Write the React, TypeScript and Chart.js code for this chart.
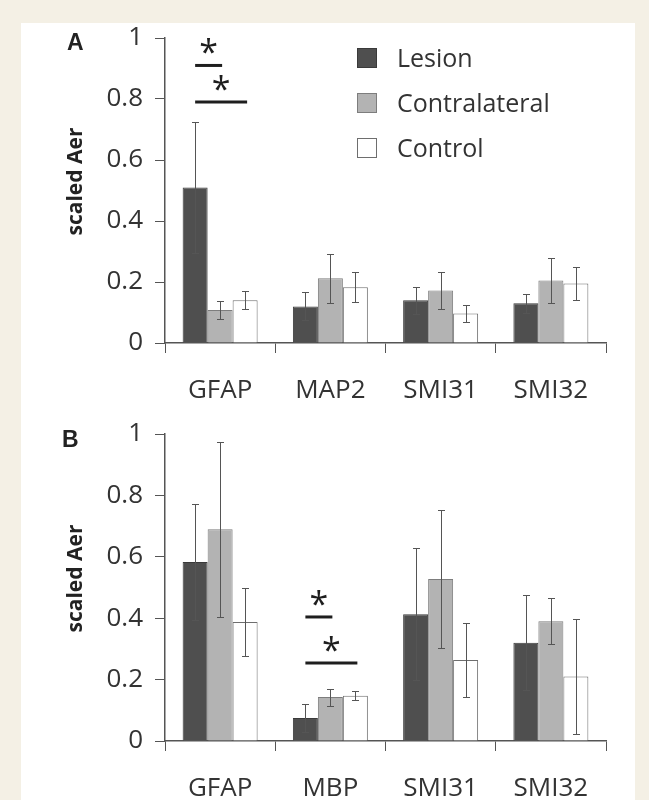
import React, { useEffect, useRef } from 'react';
import { Chart, registerables } from 'chart.js';

Chart.register(...registerables);

// ---------- data ----------
const seriesNames = ['Lesion', 'Contralateral', 'Control'];
const yTickValues = [0, 0.2, 0.4, 0.6, 0.8, 1];

const categoriesA = ['GFAP', 'MAP2', 'SMI31', 'SMI32'];
const lesionA = [0.51, 0.12, 0.14, 0.13];
const lesionErrA = [0.215, 0.046, 0.045, 0.03];
const contraA = [0.108, 0.212, 0.172, 0.205];
const contraErrA = [0.03, 0.08, 0.06, 0.075];
const controlA = [0.14, 0.183, 0.097, 0.195];
const controlErrA = [0.03, 0.05, 0.028, 0.055];
const sigA = [
  { group: 0, from: 0, to: 1, y: 0.91 },
  { group: 0, from: 0, to: 2, y: 0.79 },
];

const categoriesB = ['GFAP', 'MBP', 'SMI31', 'SMI32'];
const lesionB = [0.583, 0.075, 0.413, 0.32];
const lesionErrB = [0.19, 0.045, 0.215, 0.155];
const contraB = [0.69, 0.143, 0.528, 0.39];
const contraErrB = [0.285, 0.028, 0.225, 0.075];
const controlB = [0.388, 0.147, 0.264, 0.21];
const controlErrB = [0.112, 0.015, 0.12, 0.187];
const sigB = [
  { group: 1, from: 0, to: 1, y: 0.404 },
  { group: 1, from: 0, to: 2, y: 0.254 },
];

// ---------- styles ----------
const fills = ['#4f4f4f', '#b3b3b3', '#ffffff'];
const borders = ['#3a3a3a', '#7d7d7d', '#6e6e6e'];
const axisColor = '#555555';
const textColor = '#333333';
const FONT = '"Open Sans", "DejaVu Sans", sans-serif';

const extrasPlugin = {
  id: 'extras',
  afterDatasetsDraw(chart: any, _args: any, opts: any) {
    const ctx = chart.ctx;
    const ys = chart.scales.y;
    // error bars
    chart.data.datasets.forEach((ds: any, i: number) => {
      const meta = chart.getDatasetMeta(i);
      meta.data.forEach((bar: any, j: number) => {
        const v = ds.data[j];
        const e = ds.errors[j];
        const x = Math.round(bar.x) + 0.5;
        const y1 = Math.round(ys.getPixelForValue(v + e)) + 0.5;
        const y2 = Math.round(ys.getPixelForValue(v - e)) + 0.5;
        ctx.save();
        ctx.strokeStyle = '#555555';
        ctx.lineWidth = 1;
        ctx.beginPath();
        ctx.moveTo(x, y1);
        ctx.lineTo(x, y2);
        ctx.moveTo(x - 3.5, y1);
        ctx.lineTo(x + 3.5, y1);
        ctx.moveTo(x - 3.5, y2);
        ctx.lineTo(x + 3.5, y2);
        ctx.stroke();
        ctx.restore();
      });
    });
    // significance bars
    (opts.sig || []).forEach((s: any) => {
      const x1 = chart.getDatasetMeta(s.from).data[s.group].x;
      const x2 = chart.getDatasetMeta(s.to).data[s.group].x + 2;
      const y = ys.getPixelForValue(s.y);
      ctx.save();
      ctx.strokeStyle = '#1e1e1e';
      ctx.lineWidth = 3;
      ctx.beginPath();
      ctx.moveTo(x1, y);
      ctx.lineTo(x2, y);
      ctx.stroke();
      ctx.fillStyle = '#1e1e1e';
      ctx.font = `34px ${FONT}`;
      ctx.textAlign = 'center';
      ctx.textBaseline = 'middle';
      ctx.fillText('*', (x1 + x2) / 2, y - 11);
      ctx.restore();
    });
  },
  afterDraw(chart: any, _args: any, opts: any) {
    const ctx = chart.ctx;
    const area = chart.chartArea;
    // panel letter
    ctx.save();
    ctx.fillStyle = '#222';
    ctx.font = `bold 23px "Liberation Sans", Arial, sans-serif`;
    ctx.textAlign = 'left';
    ctx.textBaseline = 'alphabetic';
    ctx.fillText(opts.letter, opts.letterX, area.top + opts.letterDy);
    ctx.restore();
    // y title
    ctx.save();
    ctx.fillStyle = '#222';
    ctx.font = `bold 21px ${FONT}`;
    ctx.textAlign = 'center';
    ctx.textBaseline = 'middle';
    ctx.translate(76, (area.top + area.bottom) / 2 - 9);
    ctx.rotate(-Math.PI / 2);
    ctx.fillText(opts.yTitle, 0, 0);
    ctx.restore();
    // legend
    if (opts.legend) {
      chart.data.datasets.forEach((ds: any, i: number) => {
        const bx = 357;
        const by = 48 + i * 45;
        ctx.save();
        ctx.fillStyle = ds.backgroundColor;
        ctx.strokeStyle = ds.borderColor;
        ctx.lineWidth = 1;
        ctx.fillRect(bx, by, 20, 20);
        ctx.strokeRect(bx + 0.5, by + 0.5, 19, 19);
        ctx.fillStyle = textColor;
        ctx.font = `25px ${FONT}`;
        ctx.textAlign = 'left';
        ctx.textBaseline = 'middle';
        ctx.fillText(ds.label, 397, by + 12);
        ctx.restore();
      });
    }
  },
};

type PanelProps = {
  categories: string[];
  values: number[][];
  errors: number[][];
  sig: any[];
  letter: string;
  letterX: number;
  letterDy: number;
  legend: boolean;
  top: number;
  height: number;
  chartTop: number;
  xHeight: number;
};

function Panel(p: PanelProps) {
  const ref = useRef<HTMLCanvasElement>(null);
  useEffect(() => {
    if (!ref.current) return;
    const chart = new Chart(ref.current, {
      type: 'bar',
      data: {
        labels: p.categories,
        datasets: p.values.map((vals, i) => ({
          label: seriesNames[i],
          data: vals,
          errors: p.errors[i],
          backgroundColor: fills[i],
          borderColor: borders[i],
          borderWidth: 1,
          categoryPercentage: 0.68,
          barPercentage: 1.0,
        })) as any,
      },
      options: {
        responsive: false,
        animation: false,
        devicePixelRatio: 1,
        layout: { padding: { top: p.chartTop, right: 43, left: 0, bottom: 0 } },
        plugins: {
          legend: { display: false },
          tooltip: { enabled: false },
          extras: {
            sig: p.sig,
            letter: p.letter,
            letterX: p.letterX,
            letterDy: p.letterDy,
            yTitle: 'scaled Aer',
            legend: p.legend,
          },
        } as any,
        scales: {
          x: {
            afterFit: (s: any) => {
              s.height = p.xHeight;
            },
            grid: {
              drawOnChartArea: false,
              drawTicks: true,
              tickLength: 10,
              color: axisColor,
              lineWidth: 1,
            },
            border: { display: true, color: axisColor, width: 1.5 },
            ticks: {
              color: textColor,
              font: { family: FONT, size: 26 },
              padding: 22,
              maxRotation: 0,
            },
          },
          y: {
            min: 0,
            max: 1,
            afterFit: (s: any) => {
              s.width = 165;
            },
            afterBuildTicks: (s: any) => {
              s.ticks = yTickValues.map((v) => ({ value: v }));
            },
            grid: {
              drawOnChartArea: false,
              drawTicks: true,
              tickLength: 10,
              color: axisColor,
              lineWidth: 1,
            },
            border: { display: true, color: axisColor, width: 1.5 },
            ticks: {
              color: textColor,
              font: { family: FONT, size: 26 },
              padding: 12,
              callback: (v: any) => String(v),
            },
          },
        },
      },
      plugins: [extrasPlugin as any],
    });
    return () => chart.destroy();
  }, []);
  return (
    <canvas
      ref={ref}
      width={649}
      height={p.height}
      style={{ position: 'absolute', left: 0, top: p.top, width: 649, height: p.height }}
    />
  );
}

export default function App() {
  return (
    <div
      style={{
        position: 'absolute',
        left: 0,
        top: 0,
        width: 649,
        height: 800,
        background: '#f4f0e5',
        overflow: 'hidden',
      }}
    >
      <div
        style={{
          position: 'absolute',
          left: 21,
          top: 23,
          width: 614,
          height: 777,
          background: '#ffffff',
        }}
      />
      <Panel
        categories={categoriesA}
        values={[lesionA, contraA, controlA]}
        errors={[lesionErrA, contraErrA, controlErrA]}
        sig={sigA}
        letter="A"
        letterX={67}
        letterDy={12}
        legend={true}
        top={0}
        height={410}
        chartTop={38}
        xHeight={67}
      />
      <Panel
        categories={categoriesB}
        values={[lesionB, contraB, controlB]}
        errors={[lesionErrB, contraErrB, controlErrB]}
        sig={sigB}
        letter="B"
        letterX={62}
        letterDy={13}
        legend={false}
        top={400}
        height={400}
        chartTop={34}
        xHeight={59}
      />
    </div>
  );
}
